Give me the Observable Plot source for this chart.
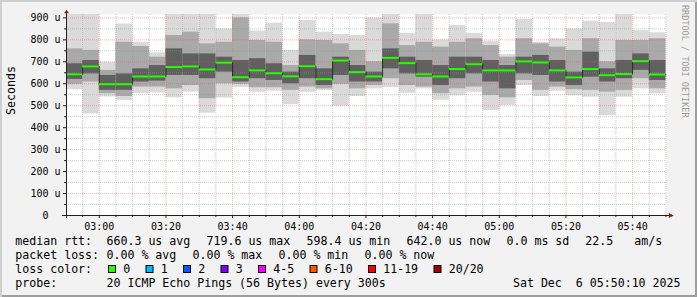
<!DOCTYPE html>
<html><head><meta charset="utf-8">
<script src="https://cdn.jsdelivr.net/npm/d3@7"></script>
<script src="https://cdn.jsdelivr.net/npm/@observablehq/plot@0.6"></script>
<style>
html,body{margin:0;padding:0;background:#f2f2f2;}
#wrap{position:relative;width:697px;height:297px;background:#f2f2f2;box-shadow:inset 2px 2px 0 #cfcfcf, inset -2px -2px 0 #9e9e9e;overflow:hidden;}
#wrap svg{position:absolute;left:0;top:0;}
</style></head>
<body><div id="wrap"></div>
<script>
// ---- data (microseconds) ----
const slots = ["02:50","02:55","03:00","03:05","03:10","03:15","03:20","03:25","03:30","03:35","03:40","03:45",
               "03:50","03:55","04:00","04:05","04:10","04:15","04:20","04:25","04:30","04:35","04:40","04:45",
               "04:50","04:55","05:00","05:05","05:10","05:15","05:20","05:25","05:30","05:35","05:40","05:45"];
const medianUs = [643,679,598,598,633,633,676,679,665,696,630,661,648,634,680,621,706,653,633,718,694,643,633,667,689,661,661,702,697,661,629,667,639,644,703,642];
const maxUs    = [918,918,698,872,789,741,918,918,918,850,918,840,876,752,888,835,824,820,900,918,830,918,800,865,830,794,733,893,789,805,850,885,879,918,842,832];
const hi2Us    = [759,752,661,789,770,721,820,835,782,789,900,797,789,683,800,797,782,752,700,873,774,789,767,789,805,774,721,805,782,767,752,805,700,797,797,805];
const hi1Us    = [691,706,638,645,668,683,759,736,736,721,706,714,691,653,729,668,721,683,653,759,721,706,683,721,721,706,683,721,729,706,653,744,668,706,736,706];
const lo1Us    = [620,645,570,570,608,612,638,638,623,653,608,623,615,600,623,592,638,608,608,668,645,630,592,623,645,608,577,645,638,608,592,630,608,623,661,615];
const lo2Us    = [597,608,555,542,585,585,577,592,532,600,597,582,582,570,585,577,597,577,592,623,592,585,555,577,585,547,536,615,570,585,573,570,562,570,623,577];
const minUs    = [574,463,540,523,555,558,536,562,466,535,583,561,566,505,561,569,498,542,577,582,557,577,525,546,561,478,501,592,542,566,546,539,455,539,577,554];

const xTickLabels = ["03:00","03:20","03:40","04:00","04:20","04:40","05:00","05:20","05:40"];
const yTickValues = [0,100,200,300,400,500,600,700,800,900];
const yTickLabels = ["0\u00a0\u00a0","100 u","200 u","300 u","400 u","500 u","600 u","700 u","800 u","900 u"];
const yMinorValues = [50,150,250,350,450,550,650,750,850];

const rttLabel = "median rtt:";
const rttStats = ["660.3 us avg","719.6 us max","598.4 us min","642.0 us now"];
const rttExtra = ["0.0 ms sd","22.5","am/s"];
const lossLabel = "packet loss:";
const lossStats = ["0.00 % avg","0.00 % max","0.00 % min","0.00 % now"];
const lossColorLabel = "loss color:";
const lossNames = ["0","1","2","3","4-5","6-10","11-19","20/20"];
const lossColors = ["#26ff00","#00b8ff","#0059ff","#7e00ff","#ff00ff","#ff5500","#ff0000","#a10000"];
const probeLabel = "probe:";
const probeText = "20 ICMP Echo Pings (56 Bytes) every 300s";
const stampText = "Sat Dec  6 05:50:10 2025";
const watermark = "RRDTOOL / TOBI OETIKER";
const yLabel = "Seconds";

// ---- build ----
const parseSlot = s => { const [h, m] = s.split(":").map(Number); return new Date(2025, 11, 6, h, m, 0); };
const STEP = 5 * 60 * 1000;
const table = slots.map((s, i) => {
  const t0 = parseSlot(s);
  return {t0, t1: new Date(t0.getTime() + STEP), median: medianUs[i], max: maxUs[i],
          hi2: hi2Us[i], hi1: hi1Us[i], lo1: lo1Us[i], lo2: lo2Us[i], min: minUs[i]};
});
const xStart = new Date(2025, 11, 6, 2, 50, 10);
const xEnd = new Date(2025, 11, 6, 5, 50, 10);
const yTop = 915.5;
const majorX = xTickLabels.map(parseSlot);
const minorX = table.map(d => d.t1).filter(t => t < xEnd && !majorX.some(m => +m === +t));
const stepPts = table.map(d => ({t: d.t0, v: d.median})).concat([{t: table[table.length-1].t1, v: table[table.length-1].median}]);

const arrowUp = {draw(ctx) { ctx.moveTo(0, -4.7); ctx.lineTo(2.5, -1.3); ctx.lineTo(-2.5, -1.3); ctx.closePath(); }};
const arrowRight = {draw(ctx) { ctx.moveTo(7.3, 0); ctx.lineTo(2.3, -2.5); ctx.lineTo(2.3, 2.5); ctx.closePath(); }};

const MONO = "'DejaVu Sans Mono', monospace";
const chart = Plot.plot({
  width: 697, height: 297,
  marginLeft: 66, marginRight: 31, marginTop: 14, marginBottom: 82,
  style: {background: "transparent", fontFamily: MONO, fontSize: "10px", color: "#000", overflow: "visible"},
  x: {type: "time", domain: [xStart, xEnd], label: null},
  y: {type: "linear", domain: [0, yTop], label: null},
  marks: [
    Plot.frame({fill: "white", stroke: null}),
    Plot.rect(table, {x1: "t0", x2: "t1", y1: "min", y2: "max", fill: "#dadada", clip: true}),
    Plot.rect(table, {x1: "t0", x2: "t1", y1: "lo2", y2: "hi2", fill: "#a9a9a9", clip: true}),
    Plot.rect(table, {x1: "t0", x2: "t1", y1: "lo1", y2: "hi1", fill: "#606060", clip: true}),
    Plot.gridY(yMinorValues, {stroke: "#8f8f8f", strokeOpacity: 0.45, strokeDasharray: "1,1"}),
    Plot.gridY(yTickValues.filter(v => v > 0), {stroke: "#de4f4f", strokeOpacity: 0.4, strokeDasharray: "1,1"}),
    Plot.gridX(minorX, {stroke: "#8f8f8f", strokeOpacity: 0.45, strokeDasharray: "1,1"}),
    Plot.gridX(majorX, {stroke: "#de4f4f", strokeOpacity: 0.4, strokeDasharray: "1,1"}),
    Plot.line(stepPts, {x: "t", y: "v", curve: "step-after", stroke: "#1f1f1f", strokeWidth: 1, strokeDasharray: "1,1", clip: true}),
    Plot.ruleY(table, {x1: "t0", x2: "t1", y: "median", stroke: "#26ff00", strokeWidth: 2, clip: true}),
    Plot.ruleY([0], {stroke: "#1f1f1f", insetLeft: -4, insetRight: -4}),
    Plot.ruleX([xStart], {stroke: "#1f1f1f", insetTop: -2, insetBottom: -3}),
    Plot.axisY(yTickValues, {tickSize: 3, tickPadding: 3, fontSize: 10, stroke: "#1f1f1f", label: null,
      tickFormat: d => yTickLabels[yTickValues.indexOf(d)]}),
    Plot.axisY(yMinorValues, {tickSize: 2, stroke: "#1f1f1f", label: null, tickFormat: () => ""}),
    Plot.axisX(majorX, {tickSize: 3, tickPadding: 4, fontSize: 10, stroke: "#1f1f1f", label: null,
      tickFormat: d => xTickLabels[majorX.findIndex(m => +m === +d)]}),
    Plot.axisX(minorX, {tickSize: 2, stroke: "#1f1f1f", label: null, tickFormat: () => ""}),
    Plot.dot([{x: xStart, y: yTop}], {x: "x", y: "y", symbol: arrowUp, r: 3, fill: "#801f1f", stroke: null}),
    Plot.dot([{x: xEnd, y: 0}], {x: "x", y: "y", symbol: arrowRight, r: 3, fill: "#801f1f", stroke: null}),
    Plot.text([yLabel], {text: d => d, frameAnchor: "left", rotate: -90, dx: -55, fontSize: 11.6, fill: "#000"}),
    Plot.text([watermark], {text: d => d, frameAnchor: "top-right", rotate: 90, dx: 22, dy: -9.5,
      textAnchor: "start", fontSize: 8.5, fill: "#9a9a9a"})
  ]
});
document.getElementById("wrap").appendChild(chart);

// ---- legend below the canvas ----
const CW = 7.0; // advance of one monospace char at 11.6px
const svg = d3.select(chart);
const g = svg.append("g").attr("font-family", MONO).attr("font-size", 11.6).attr("fill", "#000").style("white-space", "pre");
const put = (x, y, s, anchor = "start") => g.append("text").attr("x", x).attr("y", y).attr("text-anchor", anchor).text(s);
const colX = 106.5;
// line 1
put(15.3, 245, rttLabel);
rttStats.forEach((s, i) => put(colX + i * 100, 245, s));
put(colX + 400, 245, rttExtra[0]);
put(585.2, 245, rttExtra[1]);
put(634.3, 245, rttExtra[2]);
// line 2
put(15.3, 259, lossLabel);
lossStats.forEach((s, i) => put(colX + i * 86, 259, s));
// line 3
put(15.3, 273, lossColorLabel);
let bx = 108.5;
lossNames.forEach((n, i) => {
  g.append("rect").attr("x", bx).attr("y", 265.5).attr("width", 7).attr("height", 7)
    .attr("fill", lossColors[i]).attr("stroke", "#000").attr("stroke-width", 1);
  put(bx + 14.7, 273, n);
  bx = bx + 15.5 + n.length * CW + 15;
});
// line 4
put(15.3, 287.2, probeLabel);
put(colX, 287.2, probeText);
put(680.5, 287.2, stampText, "end");
</script>
</body></html>
